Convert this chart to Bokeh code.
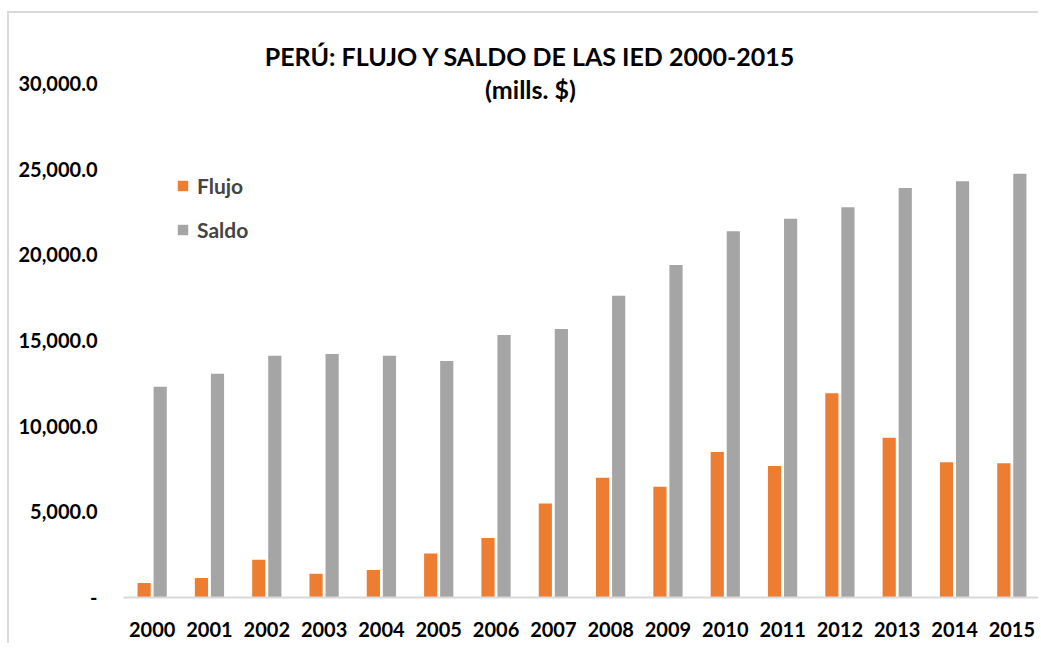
from bokeh.plotting import figure
from bokeh.models import ColumnDataSource, FactorRange, Label, Legend, LegendItem, FixedTicker, NumeralTickFormatter
from bokeh.transform import dodge
from bokeh.embed import file_html
from bokeh.resources import INLINE

years = ["2000", "2001", "2002", "2003", "2004", "2005", "2006", "2007",
         "2008", "2009", "2010", "2011", "2012", "2013", "2014", "2015"]
flujo = [850, 1145, 2200, 1380, 1600, 2570, 3470, 5490,
         6990, 6460, 8490, 7670, 11920, 9320, 7900, 7830]
saldo = [12300, 13060, 14110, 14210, 14110, 13800, 15320, 15670,
         17620, 19410, 21380, 22115, 22780, 23910, 24300, 24740]
y_ticks = [0, 5000, 10000, 15000, 20000, 25000, 30000]

FONT = "Lato"
ORANGE = "#ED7D31"
GRAY = "#A5A5A5"

src = ColumnDataSource(dict(years=years, flujo=flujo, saldo=saldo))

p = figure(x_range=FactorRange(*years), y_range=(0, 33800),
           width=1031, height=632, output_backend="svg", toolbar_location=None,
           min_border_left=114, min_border_top=5, min_border_bottom=48, min_border_right=0)
p.styles = {"border-left": "2px solid #d9d9d9", "border-top": "2px solid #d9d9d9",
            "margin-left": "7px", "margin-top": "11px"}
p.x_range.range_padding = 0
p.outline_line_color = None
p.xgrid.grid_line_color = None
p.ygrid.grid_line_color = None

r1 = p.vbar(x=dodge("years", -0.14, range=p.x_range), top="flujo", width=0.23,
            source=src, fill_color=ORANGE, line_color=None)
r2 = p.vbar(x=dodge("years", 0.14, range=p.x_range), top="saldo", width=0.23,
            source=src, fill_color=GRAY, line_color=None)

# y axis
p.yaxis.ticker = FixedTicker(ticks=y_ticks)
p.yaxis.formatter = NumeralTickFormatter(format="0,0.0")
p.yaxis.major_label_overrides = {0: "-"}
p.yaxis.axis_line_color = None
p.yaxis.major_tick_line_color = None
p.yaxis.minor_tick_line_color = None
p.yaxis.major_tick_out = 0
p.yaxis.major_label_standoff = 26
p.yaxis.major_label_text_font = FONT
p.yaxis.major_label_text_font_style = "bold"
p.yaxis.major_label_text_font_size = "20px"
p.yaxis.major_label_text_color = "#000000"

# x axis
p.xaxis.axis_line_color = "#d9d9d9"
p.xaxis.axis_line_width = 2
p.xaxis.major_tick_line_color = None
p.xaxis.minor_tick_line_color = None
p.xaxis.major_tick_out = 0
p.xaxis.major_label_standoff = 24
p.xaxis.major_label_text_font = FONT
p.xaxis.major_label_text_font_style = "bold"
p.xaxis.major_label_text_font_size = "20px"
p.xaxis.major_label_text_color = "#000000"

# legend
legend = Legend(items=[LegendItem(label="Flujo", renderers=[r1]),
                       LegendItem(label="Saldo", renderers=[r2])],
                location=(53, 355), border_line_color=None, background_fill_alpha=0,
                padding=0, margin=0, spacing=19, glyph_width=13, glyph_height=13,
                label_standoff=8, label_text_font=FONT, label_text_font_style="bold",
                label_text_font_size="21px", label_height=22)
p.add_layout(legend)

# titles
p.add_layout(Label(x=407, y=542, x_units="screen", y_units="screen",
                   text="PERÚ: FLUJO Y SALDO DE LAS IED 2000-2015", text_align="center",
                   text_baseline="alphabetic", text_font=FONT, text_font_style="bold",
                   text_font_size="25px", text_color="#000000"))
p.add_layout(Label(x=407, y=509, x_units="screen", y_units="screen",
                   text="(mills. $)", text_align="center",
                   text_baseline="alphabetic", text_font=FONT, text_font_style="bold",
                   text_font_size="25px", text_color="#000000"))

open("out.html", "w").write(file_html(p, INLINE))
